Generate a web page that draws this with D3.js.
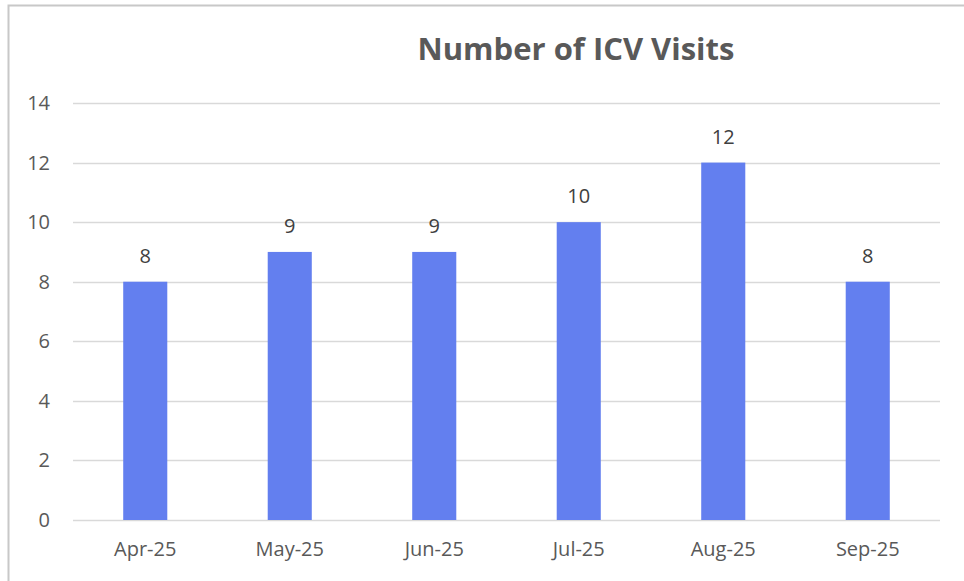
<!DOCTYPE html>
<html>
<head>
<meta charset="utf-8">
<script src="https://cdn.jsdelivr.net/npm/d3@7"></script>
<style>
  body { margin: 0; background: #fff; }
  svg { display: block; }
</style>
</head>
<body>
<div id="chart"></div>
<script>
var months = ["Apr-25", "May-25", "Jun-25", "Jul-25", "Aug-25", "Sep-25"];
var visits = [8, 9, 9, 10, 12, 8];
var yTicks = [0, 2, 4, 6, 8, 10, 12, 14];

var width = 964, height = 581;
var margin = {top: 103, right: 24, bottom: 61, left: 73};
var font = "'Open Sans', sans-serif";

var svg = d3.select("#chart").append("svg")
  .attr("width", width)
  .attr("height", height);

// outer frame of the chart area
svg.append("path")
  .attr("d", "M8.5,581 V5.5 H964")
  .attr("fill", "none")
  .attr("stroke", "#c8c8c8")
  .attr("stroke-width", 2);

var x = d3.scaleBand()
  .domain(months)
  .range([margin.left, width - margin.right])
  .paddingInner(0.695)
  .paddingOuter(0.3475);

var y = d3.scaleLinear()
  .domain([0, 14])
  .range([height - margin.bottom, margin.top]);

// gridlines
svg.append("g")
  .selectAll("line")
  .data(yTicks)
  .join("line")
  .attr("x1", margin.left)
  .attr("x2", width - margin.right)
  .attr("y1", function(d) { return Math.round(y(d)) + 0.5; })
  .attr("y2", function(d) { return Math.round(y(d)) + 0.5; })
  .attr("stroke", "#d9d9d9")
  .attr("stroke-width", 1.5);

// y labels
svg.append("g")
  .selectAll("text")
  .data(yTicks)
  .join("text")
  .attr("x", 50)
  .attr("y", function(d) { return y(d); })
  .attr("dy", "0.35em")
  .attr("text-anchor", "end")
  .attr("font-family", font)
  .attr("font-size", 20)
  .attr("fill", "#595959")
  .text(function(d) { return d; });

// bars
svg.append("g")
  .selectAll("rect")
  .data(visits)
  .join("rect")
  .attr("x", function(d, i) { return x(months[i]); })
  .attr("y", function(d) { return y(d); })
  .attr("width", x.bandwidth())
  .attr("height", function(d) { return y(0) - y(d); })
  .attr("fill", "#637fef");

// value labels
svg.append("g")
  .selectAll("text")
  .data(visits)
  .join("text")
  .attr("x", function(d, i) { return x(months[i]) + x.bandwidth() / 2; })
  .attr("y", function(d) { return y(d) - 19; })
  .attr("text-anchor", "middle")
  .attr("font-family", font)
  .attr("font-size", 20)
  .attr("fill", "#404040")
  .text(function(d) { return d; });

// x labels
svg.append("g")
  .selectAll("text")
  .data(months)
  .join("text")
  .attr("x", function(d) { return x(d) + x.bandwidth() / 2; })
  .attr("y", height - margin.bottom + 36)
  .attr("text-anchor", "middle")
  .attr("font-family", font)
  .attr("font-size", 20)
  .attr("fill", "#595959")
  .text(function(d) { return d; });

// title
svg.append("text")
  .attr("x", 576)
  .attr("y", 60)
  .attr("text-anchor", "middle")
  .attr("font-family", font)
  .attr("font-size", 31)
  .attr("font-weight", "bold")
  .attr("fill", "#595959")
  .text("Number of ICV Visits");
</script>
</body>
</html>
